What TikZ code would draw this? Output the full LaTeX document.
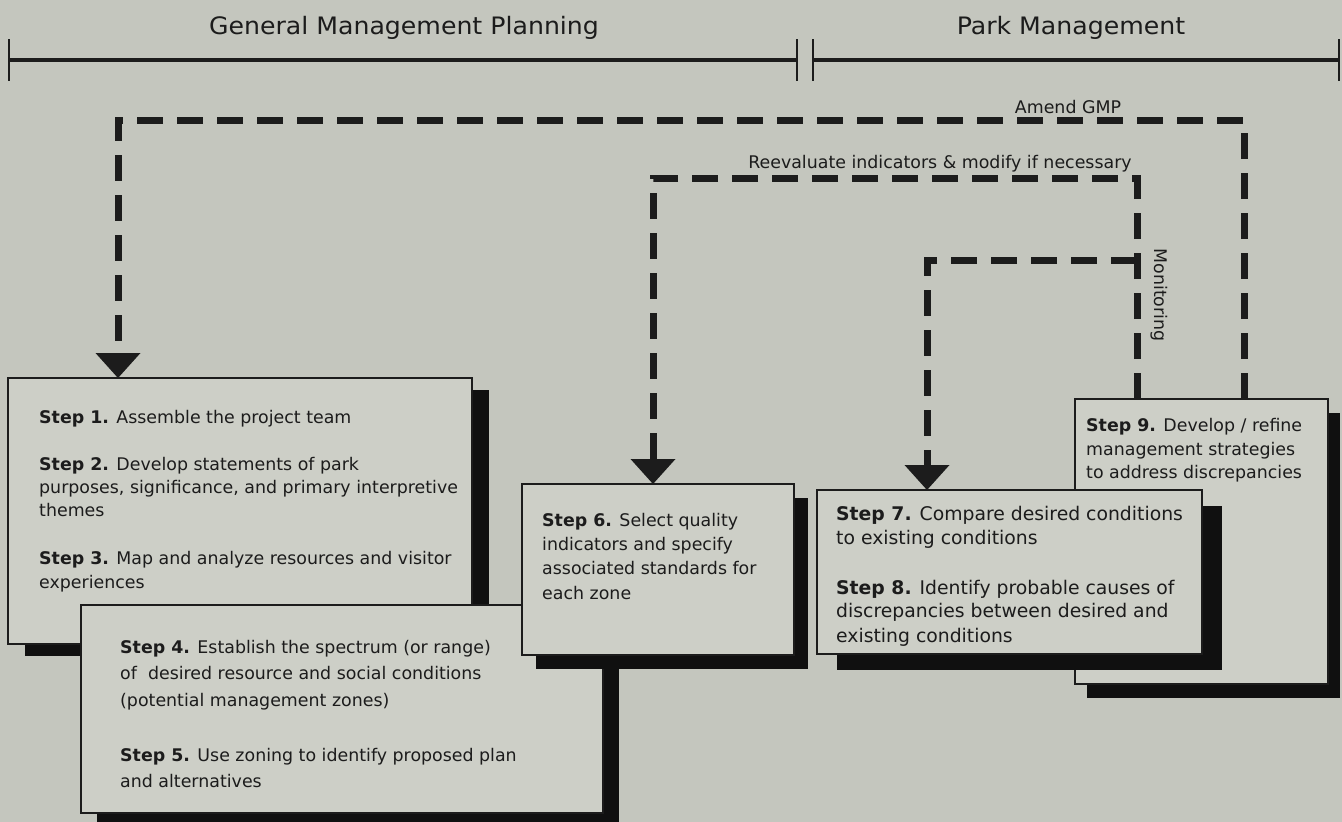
\documentclass[tikz,border=0pt]{standalone}
\usepackage{fontspec}
\setmainfont{DejaVu Sans}
\newfontfamily\hdrfont{DejaVu Sans}[FakeStretch=1.05]
\usetikzlibrary{arrows.meta,shadows}
\definecolor{bgc}{RGB}{196,198,190}
\definecolor{boxc}{RGB}{205,207,199}
\definecolor{inkc}{RGB}{28,28,28}
\definecolor{shc}{RGB}{16,16,16}
\tikzset{
  stepbox/.style={draw=inkc, line width=1.4pt, fill=boxc, anchor=north west, inner sep=0pt, outer sep=0pt},
  txt/.style={anchor=base west, inner sep=0pt, text=inkc, font=\fontsize{17.4pt}{21pt}\selectfont},
  txtbig/.style={txt, font=\fontsize{18.8pt}{22pt}\selectfont},
  lbl/.style={anchor=base, inner sep=0pt, text=inkc, font=\fontsize{17.4pt}{21pt}\selectfont},
  hdr/.style={anchor=base, inner sep=0pt, text=inkc, font=\hdrfont\fontsize{24pt}{28pt}\selectfont},
  bracketline/.style={draw=inkc, line width=3.5pt},
  bracketend/.style={draw=inkc, line width=2.6pt},
  looppath/.style={draw=inkc, line width=7pt, dash pattern=on 26pt off 14pt,
    -{Triangle[width=45pt,length=25pt,line width=0pt]}},
  sh/.style 2 args={drop shadow={shadow xshift=#1pt, shadow yshift=-#2pt, fill=shc, opacity=1}}
}
\begin{document}
\begin{tikzpicture}[x=1pt,y=-1pt]
\fill[bgc] (0,0) rectangle (1342,822);
\useasboundingbox (0,0) rectangle (1342,822);

% header
\node[hdr] (gmp) at (404,34) {General Management Planning};
\node[hdr] (pm) at (1071,34) {Park Management};
\draw[bracketline] (9,60) -- (797,60);
\draw[bracketline] (813,60) -- (1339,60);
\draw[bracketend] (9,39) -- (9,81);
\draw[bracketend] (797,39) -- (797,81);
\draw[bracketend] (813,39) -- (813,81);
\draw[bracketend] (1339,39) -- (1339,81);

% boxes
\node[stepbox, sh={17}{12}, minimum width=464pt, minimum height=266pt] (s1) at (8,378) {};
\node[stepbox, sh={16}{12}, minimum width=522pt, minimum height=208pt] (s4) at (81,605) {};
\node[stepbox, sh={14}{14}, minimum width=272pt, minimum height=171pt] (s6) at (522,484) {};
\node[stepbox, sh={12}{14}, minimum width=253pt, minimum height=285pt] (s9) at (1075,399) {};
\node[stepbox, sh={20}{16}, minimum width=385pt, minimum height=164pt] (s7) at (817,490) {};

% texts
\node[txt] (t1a) at (39,423) {\textbf{Step 1.} Assemble the project team};
\node[txt] (t1b) at (39,470) {\textbf{Step 2.} Develop statements of park};
\node[txt] (t1c) at (39,493) {purposes, significance, and primary interpretive};
\node[txt] (t1d) at (39,516) {themes};
\node[txt] (t1e) at (39,564) {\textbf{Step 3.} Map and analyze resources and visitor};
\node[txt] (t1f) at (39,588) {experiences};

\node[txt] (t4a) at (120,653) {\textbf{Step 4.} Establish the spectrum (or range)};
\node[txt] (t4b) at (120,679) {of\ \ desired resource and social conditions};
\node[txt] (t4c) at (120,706) {(potential management zones)};
\node[txt] (t4d) at (120,761) {\textbf{Step 5.} Use zoning to identify proposed plan};
\node[txt] (t4e) at (120,787) {and alternatives};

\node[txt] (t6a) at (542,526) {\textbf{Step 6.} Select quality};
\node[txt] (t6b) at (542,550) {indicators and specify};
\node[txt] (t6c) at (542,574) {associated standards for};
\node[txt] (t6d) at (542,599) {each zone};

\node[txt] (t9a) at (1086,431) {\textbf{Step 9.} Develop / refine};
\node[txt] (t9b) at (1086,455) {management strategies};
\node[txt] (t9c) at (1086,478) {to address discrepancies};

\node[txtbig] (t7a) at (836,520) {\textbf{Step 7.} Compare desired conditions};
\node[txtbig] (t7b) at (836,544) {to existing conditions};
\node[txtbig] (t7c) at (836,594) {\textbf{Step 8.} Identify probable causes of};
\node[txtbig] (t7d) at (836,617) {discrepancies between desired and};
\node[txtbig] (t7e) at (836,642) {existing conditions};

% feedback loops
\coordinate (a1) at (1244,120);
\coordinate (a2) at (118,120);
\coordinate (r1) at (1137,178);
\coordinate (r2) at (653,178);
\coordinate (m1) at (1137,260);
\coordinate (m2) at (927,260);
\draw[looppath] (s9.north -| a1) -- (a1) -- (a2) -- (s1.north -| a2);
\draw[looppath] (s9.north -| r1) -- (r1) -- (r2) -- (s6.north -| r2);
\draw[looppath] (m1) -- (m2) -- (s7.north -| m2);

% labels
\node[lbl] (amend) at (1068,113) {Amend GMP};
\node[lbl] (reeval) at (940,168) {Reevaluate indicators \& modify if necessary};
\node[lbl, rotate=-90] (monit) at (1154,295) {Monitoring};
\end{tikzpicture}
\end{document}
